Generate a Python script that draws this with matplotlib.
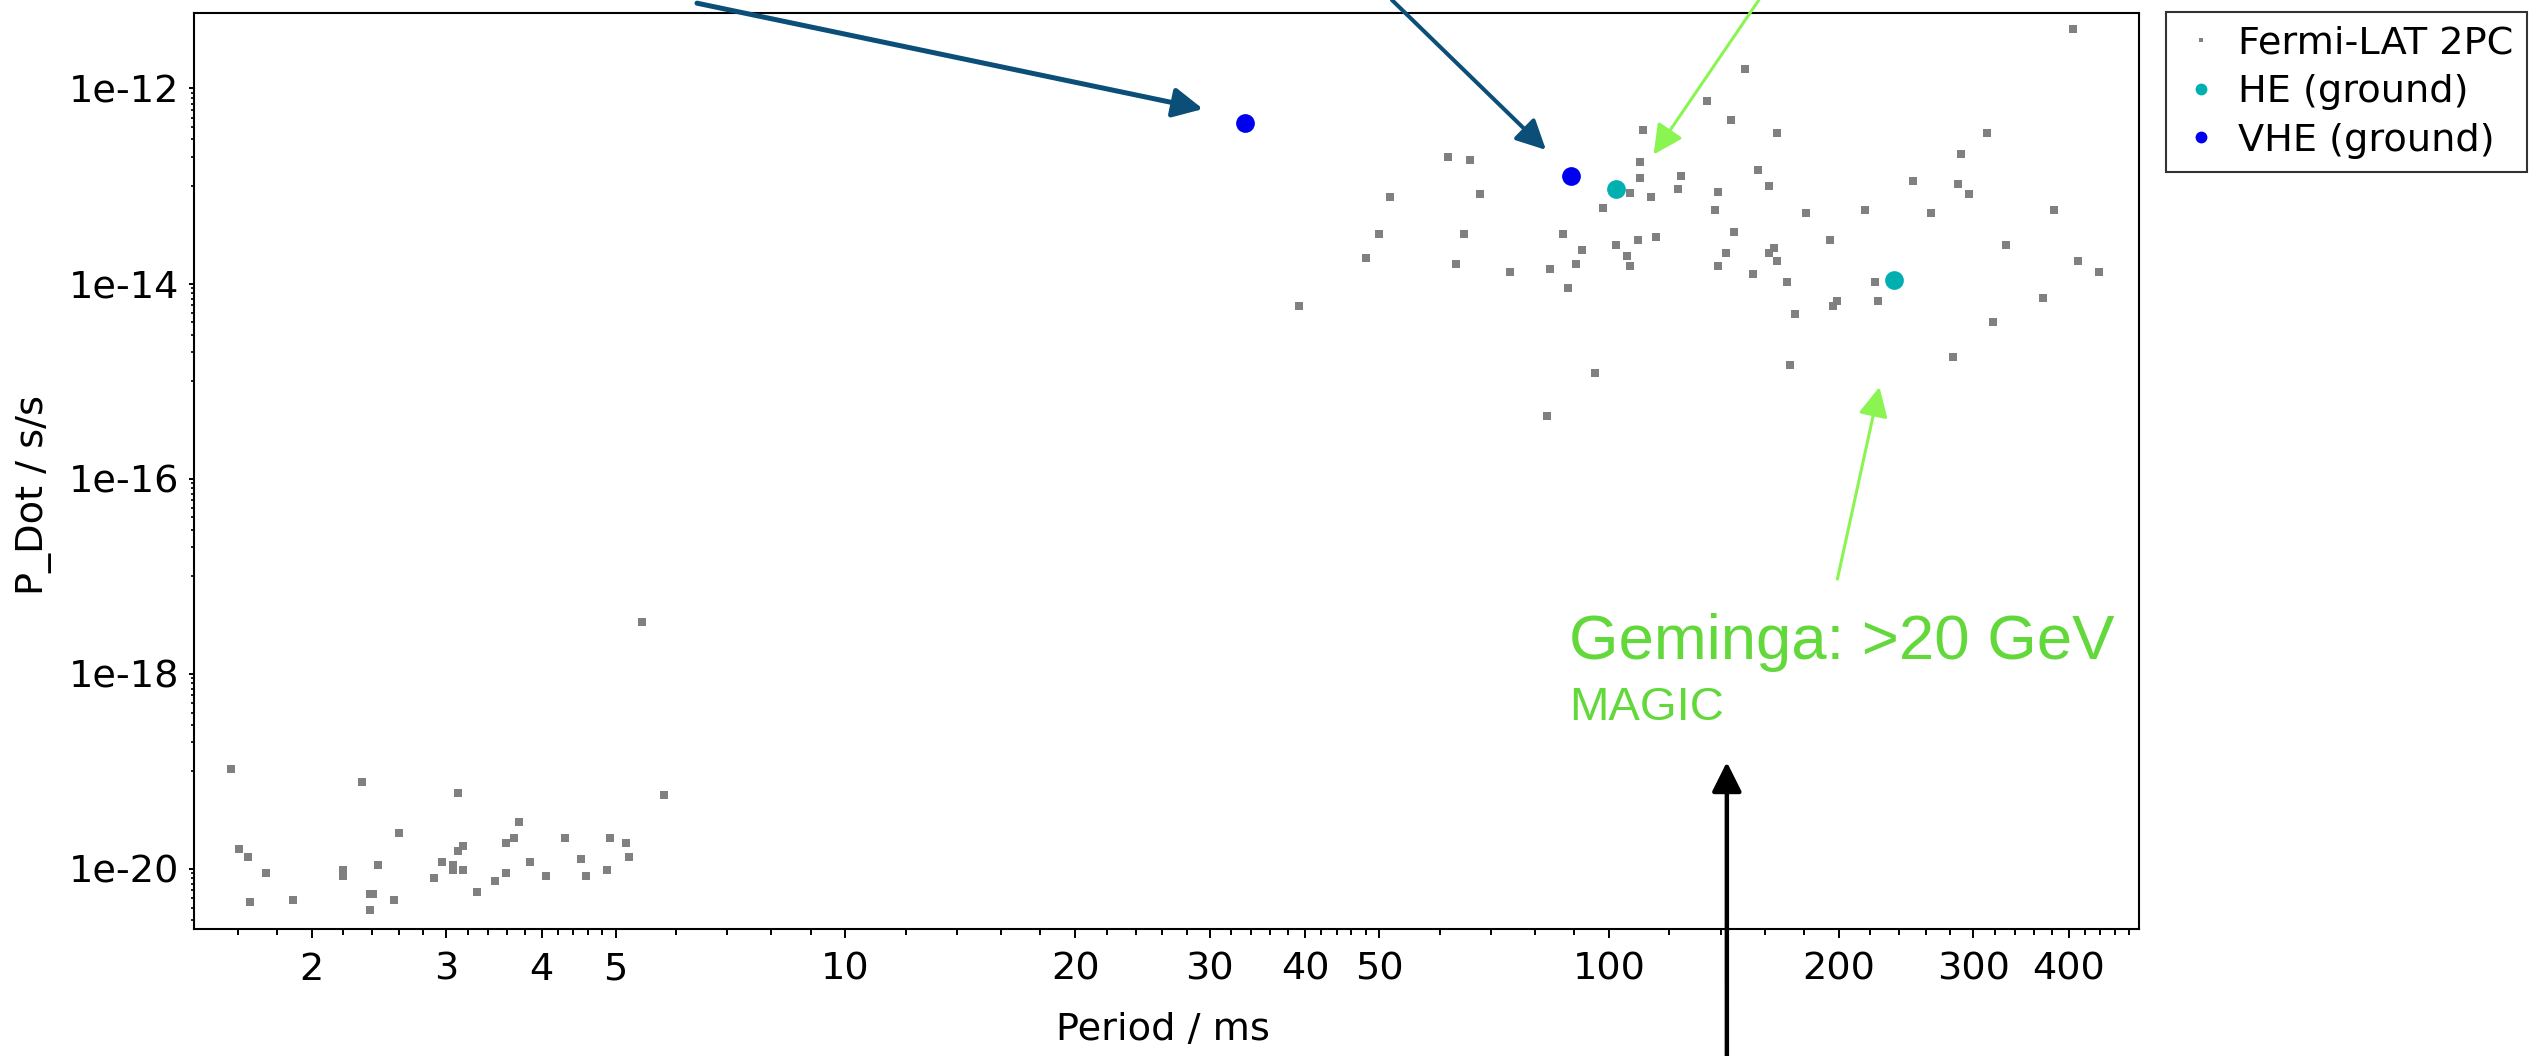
import numpy as np
import matplotlib
matplotlib.use("Agg")
from matplotlib import pyplot as plt
from matplotlib import ticker
from matplotlib.lines import Line2D

# --- Fermi-LAT 2PC: millisecond pulsars (period in ms, P_dot in s/s)
msp_period = [1.569, 1.607, 1.648, 1.66, 1.743, 1.889, 2.199, 2.199, 2.326, 2.384,
              2.407, 2.384, 2.444, 2.565, 2.604, 2.893, 2.964, 3.059, 3.059, 3.108,
              3.108, 3.158, 3.158, 3.289, 3.478, 3.592, 3.592, 3.680, 3.740, 3.863,
              4.053, 4.292, 4.500, 4.572, 4.875, 4.920, 5.164, 5.205, 5.418, 5.780]
msp_pdot = [1.05e-19, 1.61e-20, 1.33e-20, 4.57e-21, 9.12e-21, 4.82e-21, 9.7e-21, 8.5e-21, 7.76e-20, 5.52e-21,
            5.52e-21, 3.75e-21, 1.10e-20, 4.82e-21, 2.34e-20, 8.05e-21, 1.17e-20, 1.10e-20, 9.7e-21, 6.03e-20,
            1.51e-20, 1.71e-20, 9.7e-21, 5.82e-21, 7.5e-21, 1.83e-20, 9.12e-21, 2.07e-20, 3.02e-20, 1.17e-20,
            8.5e-21, 2.07e-20, 1.25e-20, 8.5e-21, 9.7e-21, 2.07e-20, 1.83e-20, 1.33e-20, 3.41e-18, 5.67e-20]

# --- Fermi-LAT 2PC: young pulsars
young_period = [110.9, 61.6, 65.7, 109.9, 124.1, 109.9, 123.0, 106.4, 113.5, 51.6,
                67.8, 98.2, 50.0, 64.6, 87.0, 115.3, 109.0, 102.2, 92.1, 105.6,
                48.0, 63.1, 90.6, 106.4, 74.1, 83.6, 88.4, 39.3, 95.9, 82.9,
                404.9, 150.6, 134.5, 144.6, 165.8, 313.0, 288.8, 156.7, 249.9, 286.5,
                295.9, 161.9, 138.9, 137.8, 181.1, 216.2, 264.3, 382.6, 145.8, 194.8,
                331.1, 142.3, 164.5, 161.9, 165.8, 138.9, 411.5, 154.2, 171.2, 223.3,
                438.7, 198.8, 196.3, 225.1, 370.5, 175.4, 318.1, 172.6, 281.9]
young_pdot = [3.72e-13, 1.98e-13, 1.86e-13, 1.75e-13, 1.27e-13, 1.20e-13, 9.30e-14, 8.47e-14, 7.70e-14, 7.70e-14,
              8.21e-14, 5.98e-14, 3.19e-14, 3.19e-14, 3.19e-14, 3.00e-14, 2.81e-14, 2.48e-14, 2.19e-14, 1.93e-14,
              1.81e-14, 1.60e-14, 1.60e-14, 1.50e-14, 1.32e-14, 1.41e-14, 9.06e-15, 5.84e-15, 1.21e-15, 4.42e-16,
              4.06e-12, 1.58e-12, 7.43e-13, 4.78e-13, 3.49e-13, 3.49e-13, 2.11e-13, 1.45e-13, 1.12e-13, 1.05e-13,
              8.21e-14, 9.92e-14, 8.73e-14, 5.63e-14, 5.28e-14, 5.63e-14, 5.28e-14, 5.63e-14, 3.40e-14, 2.81e-14,
              2.48e-14, 2.05e-14, 2.33e-14, 2.05e-14, 1.70e-14, 1.50e-14, 1.70e-14, 1.24e-14, 1.03e-14, 1.03e-14,
              1.32e-14, 6.62e-15, 5.84e-15, 6.62e-15, 7.05e-15, 4.83e-15, 4.00e-15, 1.46e-15, 1.76e-15]

# --- ground based detections
he_period = [102.2, 236.2]
he_pdot = [9.30e-14, 1.09e-14]
vhe_period = [33.4, 89.2]
vhe_pdot = [4.47e-13, 1.27e-13]

fermi_period = msp_period + young_period
fermi_pdot = msp_pdot + young_pdot

GREY = "#808080"
HE_COL = "#00b0b0"
VHE_COL = "#0000f0"
ARROW_BLUE = "#0b4f79"
ARROW_GREEN = "#8af550"
TEXT_GREEN = "#62d83a"

plt.rcParams['font.family'] = ['DejaVu Sans']
FS = 27.5

fig = plt.figure(figsize=(25.41, 10.56), dpi=100)
ax = fig.add_axes([194 / 2541, 1 - 929 / 1056, (2139 - 194) / 2541, (929 - 13) / 1056])

ax.plot(fermi_period, fermi_pdot, ls='none', marker='s', ms=6, mew=0, color=GREY)
ax.plot(he_period, he_pdot, ls='none', marker='o', ms=13.5, mew=0, color=HE_COL)
ax.plot(vhe_period, vhe_pdot, ls='none', marker='o', ms=13.5, mew=0, color=VHE_COL)

ax.set_xscale('log')
ax.set_yscale('log')
ax.set_xlim(1.402, 494.6)
ax.set_ylim(2.415e-21, 5.93e-12)

# x ticks: 1-5 per decade labelled, minor ticks in between
x_major = [2, 3, 4, 5, 10, 20, 30, 40, 50, 100, 200, 300, 400]
x_minor = []
for k in range(3):
    for m in [1, 2, 3, 4]:
        x_minor += list(np.arange(m + 0.2, m + 0.99, 0.2) * 10 ** k)
    x_minor += [n * 10 ** k for n in [6, 7, 8, 9]]
ax.xaxis.set_major_locator(ticker.FixedLocator(x_major))
ax.xaxis.set_minor_locator(ticker.FixedLocator(x_minor))
ax.xaxis.set_major_formatter(ticker.FuncFormatter(lambda v, p: f"{v:g}"))
ax.xaxis.set_minor_formatter(ticker.NullFormatter())

y_major = [10.0 ** e for e in [-20, -18, -16, -14, -12]]
y_minor = [n * 10.0 ** e for e in [-21, -19, -17, -15, -13] for n in range(1, 10)]
ax.yaxis.set_major_locator(ticker.FixedLocator(y_major))
ax.yaxis.set_minor_locator(ticker.FixedLocator(y_minor))
ax.yaxis.set_major_formatter(ticker.FuncFormatter(lambda v, p: "1e-%d" % round(-np.log10(v))))
ax.yaxis.set_minor_formatter(ticker.NullFormatter())

ax.tick_params(axis='x', which='major', direction='out', length=6.5, width=1.4, pad=10, labelsize=FS)
ax.tick_params(axis='x', which='minor', direction='out', length=4, width=1.4)
ax.tick_params(axis='y', which='major', direction='out', length=3.6, width=1.4, pad=7, labelsize=FS)
ax.tick_params(axis='y', which='minor', direction='out', length=2.2, width=1.2)
for s in ax.spines.values():
    s.set_linewidth(1.5)

ax.set_xlabel("Period / ms", fontsize=FS)
ax.set_ylabel("P_Dot / s/s", fontsize=FS)
ax.xaxis.set_label_coords(0.498, -0.091)
ax.yaxis.set_label_coords(-0.073, 0.474)

# --- legend
handles = [
    Line2D([], [], ls='none', marker='s', ms=2.2, mew=0, color=GREY, label='Fermi-LAT 2PC'),
    Line2D([], [], ls='none', marker='o', ms=8.5, mew=0, color=HE_COL, label='HE (ground)'),
    Line2D([], [], ls='none', marker='o', ms=8.5, mew=0, color=VHE_COL, label='VHE (ground)'),
]
leg = fig.legend(handles=handles, loc='upper left', bbox_to_anchor=(2166 / 2541, 1 - 12 / 1056),
                 bbox_transform=fig.transFigure, fontsize=FS, frameon=True, fancybox=False,
                 edgecolor='black', borderpad=0.35, labelspacing=0.33, handlelength=1.15,
                 handletextpad=0.38, borderaxespad=0)
leg.get_frame().set_linewidth(1.5)


def arrow(tip, tail, color, lw, tail_coords='figure fraction'):
    ax.annotate("", xy=tip, xycoords='data', xytext=tail, textcoords=tail_coords,
                annotation_clip=False,
                arrowprops=dict(arrowstyle='-|>,head_length=1.8,head_width=0.9', mutation_scale=10,
                                color=color, lw=lw, shrinkA=0, shrinkB=0))


# --- annotation arrows
arrow((29.4, 6.15e-13), (0.2743, 0.997), ARROW_BLUE, 3.6)
arrow((82.7, 2.34e-13), (0.5478, 1.0), ARROW_BLUE, 2.9)
arrow((114.4, 2.10e-13), (0.6922, 1.0), ARROW_GREEN, 2.2)
arrow((226.1, 8.69e-16), (0.7231, 0.4517), ARROW_GREEN, 2.2)
arrow((142.7, 1.244e-19), (0.6796, 0.0), 'black', 3.2)

fig.text(1569 / 2541, 1 - 659.5 / 1056, "Geminga: >20 GeV", color=TEXT_GREEN,
         family='Liberation Sans', fontsize=45.7, ha='left', va='baseline')
fig.text(1569 / 2541, 1 - 720 / 1056, "MAGIC", color=TEXT_GREEN,
         family='Liberation Sans', fontsize=34, ha='left', va='baseline')

fig.savefig("out.png", dpi=100)
